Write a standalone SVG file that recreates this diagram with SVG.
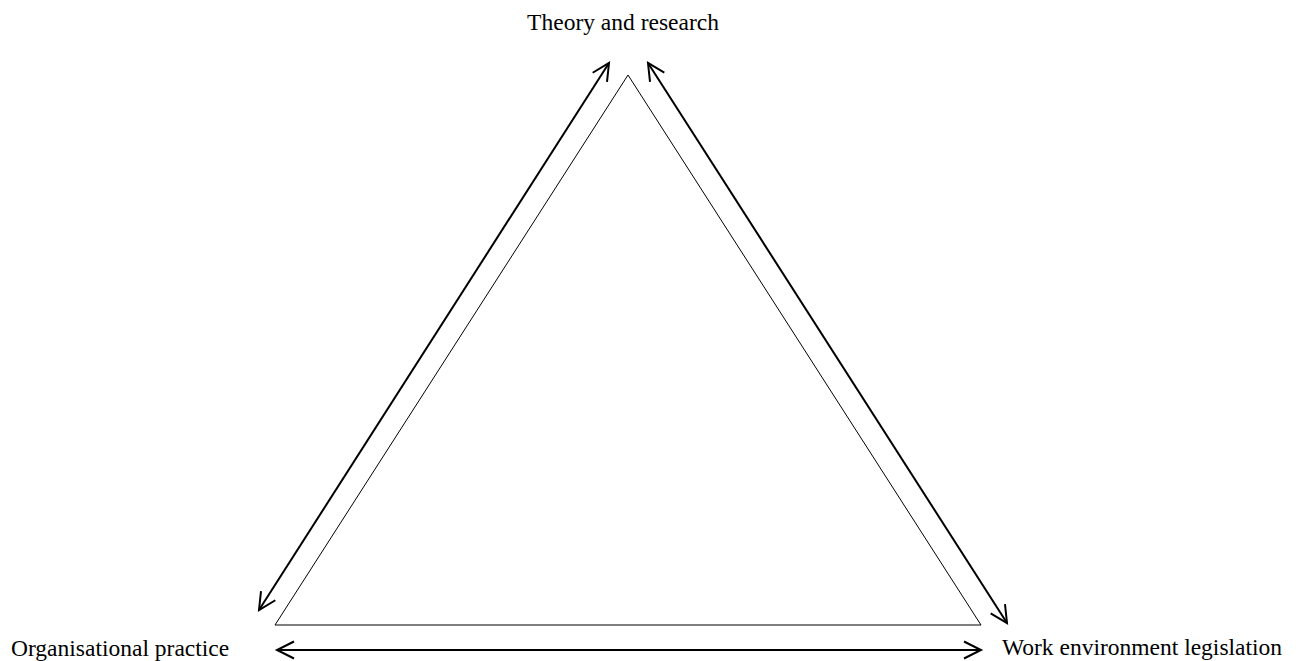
<svg xmlns="http://www.w3.org/2000/svg" width="1304" height="661" viewBox="0 0 1304 661">
<style>
.lbl{font-family:"Liberation Serif","Times New Roman",serif;font-size:23.5px;fill:#000}
.tri{fill:none;stroke:#000;stroke-width:1}
.arr{fill:none;stroke:#000;stroke-width:2;marker-start:url(#ah);marker-end:url(#ah)}
</style>
<defs>
<marker id="ah" markerUnits="userSpaceOnUse" viewBox="-22 -12 24 24" markerWidth="24" markerHeight="24" refX="0" refY="0" orient="auto-start-reverse" overflow="visible">
<path d="M-17,-8.5 L0,0 L-17,8.5" fill="none" stroke="#000" stroke-width="2"/>
</marker>
</defs>
<rect width="1304" height="661" fill="#fff"/>
<g id="triangle">
<polygon class="tri" points="628,75 275,625 981,625"/>
</g>
<g id="theory">
<text class="lbl" x="623" y="30" text-anchor="middle">Theory and research</text>
</g>
<g id="practice">
<text class="lbl" x="11" y="656">Organisational practice</text>
</g>
<g id="legislation">
<text class="lbl" x="1002" y="655">Work environment legislation</text>
</g>
<g id="connectors">
<line class="arr" x1="609" y1="63" x2="259" y2="610"/>
<line class="arr" x1="648" y1="63" x2="1007" y2="623"/>
<line class="arr" x1="277" y1="650" x2="981" y2="650"/>
</g>
</svg>
